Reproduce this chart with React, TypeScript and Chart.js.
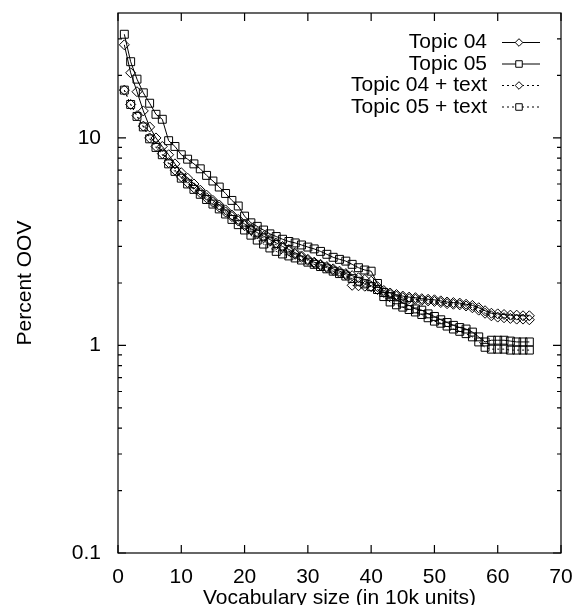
import React, { useEffect, useRef } from 'react';
import { Chart, registerables } from 'chart.js';

Chart.register(...registerables);

const FONT = "'Liberation Sans', Arial, Helvetica, sans-serif";

const xValues = [
  1, 2, 3, 4, 5, 6, 7, 8, 9, 10, 11, 12, 13, 14, 15, 16, 17, 18, 19, 20,
  21, 22, 23, 24, 25, 26, 27, 28, 29, 30, 31, 32, 33, 34, 35, 36, 37, 38, 39, 40,
  41, 42, 43, 44, 45, 46, 47, 48, 49, 50, 51, 52, 53, 54, 55, 56, 57, 58, 59, 60,
  61, 62, 63, 64, 65,
];

const topic04 = [
  28.1, 20.6, 16.7, 13.5, 11.3, 10.0, 9.1, 8.3, 7.5, 6.8,
  6.4, 6.0, 5.6, 5.3, 5.0, 4.75, 4.5, 4.25, 4.05, 3.85,
  3.65, 3.5, 3.36, 3.24, 3.12, 3.0, 2.9, 2.8, 2.7, 2.6,
  2.52, 2.46, 2.4, 2.34, 2.28, 2.22, 2.17, 2.12, 2.08, 2.04,
  1.92, 1.84, 1.79, 1.76, 1.73, 1.71, 1.7, 1.68, 1.67, 1.66,
  1.64, 1.62, 1.61, 1.6, 1.58, 1.56, 1.52, 1.47, 1.43, 1.42,
  1.41, 1.4, 1.4, 1.39, 1.39,
];

const topic05 = [
  31.6, 23.3, 19.2, 16.5, 14.7, 13.0, 12.3, 9.7, 9.1, 8.3,
  7.9, 7.5, 7.1, 6.6, 6.2, 5.8, 5.4, 5.0, 4.7, 4.2,
  3.9, 3.75, 3.6, 3.45, 3.35, 3.25, 3.17, 3.12, 3.05, 2.98,
  2.92, 2.84, 2.75, 2.66, 2.6, 2.55, 2.46, 2.37, 2.31, 2.28,
  1.99, 1.8, 1.72, 1.66, 1.6, 1.56, 1.5, 1.48, 1.42, 1.38,
  1.33, 1.29, 1.25, 1.22, 1.2, 1.16, 1.1, 1.04, 1.06, 1.06,
  1.06, 1.05, 1.04, 1.04, 1.04,
];

const topic04Text = [
  17.0, 14.5, 12.8, 11.4, 10.0, 9.1, 8.4, 7.6, 7.0, 6.5,
  6.1, 5.75, 5.45, 5.15, 4.9, 4.65, 4.4, 4.18, 3.98, 3.78,
  3.6, 3.45, 3.3, 3.18, 3.06, 2.95, 2.85, 2.75, 2.66, 2.57,
  2.49, 2.43, 2.37, 2.3, 2.24, 2.19, 1.95, 1.94, 1.93, 1.92,
  1.86, 1.8, 1.76, 1.73, 1.7, 1.68, 1.67, 1.65, 1.64, 1.63,
  1.61, 1.59, 1.58, 1.57, 1.55, 1.52, 1.48, 1.43, 1.39, 1.37,
  1.36, 1.35, 1.34, 1.34, 1.33,
];

const topic05Text = [
  17.0, 14.5, 12.7, 11.3, 9.9, 9.0, 8.3, 7.5, 6.9, 6.4,
  6.0, 5.65, 5.35, 5.05, 4.8, 4.55, 4.3, 4.05, 3.82, 3.6,
  3.4, 3.22, 3.08, 2.95, 2.84, 2.76, 2.7, 2.64, 2.58, 2.52,
  2.46, 2.4, 2.34, 2.28, 2.22, 2.16, 2.1, 2.04, 1.98, 1.92,
  1.86, 1.72, 1.62, 1.57, 1.53, 1.49, 1.45, 1.41, 1.36, 1.31,
  1.28, 1.24, 1.2, 1.17, 1.14, 1.1, 1.04, 0.98, 0.96, 0.96,
  0.96, 0.95, 0.95, 0.95, 0.95,
];

const seriesLabels = ['Topic 04', 'Topic 05', 'Topic 04 + text', 'Topic 05 + text'];
const xTicks = [0, 10, 20, 30, 40, 50, 60, 70];
const yTicks = [0.1, 1, 10];
const yMinorTicks = [0.2, 0.3, 0.4, 0.5, 0.6, 0.7, 0.8, 0.9, 2, 3, 4, 5, 6, 7, 8, 9, 20, 30];

function markerPath(ctx: CanvasRenderingContext2D, style: string, x: number, y: number, r: number) {
  ctx.beginPath();
  if (style === 'rectRot') {
    ctx.moveTo(x - r, y);
    ctx.lineTo(x, y - r);
    ctx.lineTo(x + r, y);
    ctx.lineTo(x, y + r);
    ctx.closePath();
  } else {
    const s = r * Math.SQRT1_2;
    ctx.rect(x - s, y - s, 2 * s, 2 * s);
  }
}

const framePlugin = {
  id: 'gnuFrame',
  beforeDatasetsDraw(chart: any) {
    const { ctx, chartArea } = chart;
    const { left, right, top, bottom } = chartArea;
    const xs = chart.scales.x;
    const ys = chart.scales.y;
    ctx.save();
    ctx.strokeStyle = '#000';
    ctx.lineWidth = 1.2;
    ctx.setLineDash([]);
    ctx.strokeRect(left, top, right - left, bottom - top);
    ctx.beginPath();
    const major = 8;
    const minor = 4;
    xTicks.forEach((v) => {
      const px = xs.getPixelForValue(v);
      ctx.moveTo(px, bottom);
      ctx.lineTo(px, bottom - major);
      ctx.moveTo(px, top);
      ctx.lineTo(px, top + major);
    });
    yTicks.forEach((v) => {
      const py = ys.getPixelForValue(v);
      ctx.moveTo(left, py);
      ctx.lineTo(left + major, py);
      ctx.moveTo(right, py);
      ctx.lineTo(right - major, py);
    });
    yMinorTicks.forEach((v) => {
      const py = ys.getPixelForValue(v);
      ctx.moveTo(left, py);
      ctx.lineTo(left + minor, py);
      ctx.moveTo(right, py);
      ctx.lineTo(right - minor, py);
    });
    ctx.stroke();
    ctx.restore();
  },
};

const legendPlugin = {
  id: 'gnuLegend',
  afterDraw(chart: any) {
    const { ctx } = chart;
    const styles = ['rectRot', 'rect', 'rectRot', 'rect'];
    const dashes = [[], [], [2, 3], [2, 3]];
    const radii = [3.8, 4.6, 3.8, 4.6];
    ctx.save();
    ctx.font = `21px ${FONT}`;
    ctx.fillStyle = '#000';
    ctx.textAlign = 'right';
    ctx.textBaseline = 'middle';
    seriesLabels.forEach((label, i) => {
      const y = 42.5 + i * 21.5;
      ctx.fillText(label, 487, y);
      ctx.strokeStyle = '#000';
      ctx.lineWidth = 1;
      ctx.setLineDash(dashes[i]);
      ctx.beginPath();
      ctx.moveTo(502, y);
      ctx.lineTo(540, y);
      ctx.stroke();
      ctx.setLineDash([]);
      markerPath(ctx, styles[i], 519, y, radii[i]);
      ctx.fillStyle = '#fff';
      ctx.fill();
      ctx.stroke();
      ctx.fillStyle = '#000';
    });
    ctx.restore();
  },
};

export default function App() {
  const ref = useRef<HTMLCanvasElement>(null);

  useEffect(() => {
    const canvas = ref.current;
    if (!canvas) return;
    const mk = (label: string, values: number[], style: string, dash: number[], radius: number) => ({
      label,
      data: xValues.map((x, i) => ({ x, y: values[i] })),
      borderColor: '#000',
      borderWidth: 1,
      borderDash: dash,
      pointStyle: style,
      pointRadius: radius,
      pointBorderColor: '#000',
      pointBackgroundColor: 'rgba(0,0,0,0)',
      pointBorderWidth: 1,
      tension: 0,
      fill: false,
    });
    const chart = new Chart(canvas, {
      type: 'line',
      data: {
        datasets: [
          mk(seriesLabels[0], topic04, 'rectRot', [], 5),
          mk(seriesLabels[1], topic05, 'rect', [], 5.6),
          mk(seriesLabels[2], topic04Text, 'rectRot', [2, 3], 5),
          mk(seriesLabels[3], topic05Text, 'rect', [2, 3], 5.6),
        ],
      },
      options: {
        responsive: false,
        animation: false,
        devicePixelRatio: 1,
        layout: { padding: { top: 13, right: 12, left: 0, bottom: 0 } },
        plugins: {
          legend: { display: false },
          tooltip: { enabled: false },
        },
        scales: {
          x: {
            type: 'linear',
            min: 0,
            max: 70,
            afterBuildTicks: (s: any) => {
              s.ticks = xTicks.map((v) => ({ value: v }));
            },
            afterFit: (s: any) => {
              s.height = 52;
              s.paddingLeft = 0;
              s.paddingRight = 0;
              s.paddingTop = 0;
              s.paddingBottom = 0;
            },
            grid: { display: false, drawTicks: false },
            border: { display: false },
            ticks: {
              color: '#000',
              font: { family: FONT, size: 21 },
              padding: 12,
              maxRotation: 0,
              autoSkip: false,
              callback: (v: any) => String(v),
            },
            title: {
              display: true,
              text: 'Vocabulary size (in 10k units)',
              color: '#000',
              font: { family: FONT, size: 21 },
              padding: { top: 0, bottom: -5.6 },
            },
          },
          y: {
            type: 'logarithmic',
            min: 0.1,
            max: 40,
            afterBuildTicks: (s: any) => {
              s.ticks = yTicks.map((v) => ({ value: v, major: true }));
            },
            afterFit: (s: any) => {
              s.width = 118;
              s.paddingLeft = 0;
              s.paddingRight = 0;
              s.paddingTop = 0;
              s.paddingBottom = 0;
            },
            grid: { display: false, drawTicks: false },
            border: { display: false },
            ticks: {
              color: '#000',
              font: { family: FONT, size: 21 },
              padding: 17,
              autoSkip: false,
              callback: (v: any) => String(v),
            },
            title: {
              display: true,
              text: 'Percent OOV',
              color: '#000',
              font: { family: FONT, size: 21 },
              padding: { top: 13, bottom: 0 },
            },
          },
        },
      } as any,
      plugins: [framePlugin, legendPlugin],
    });
    return () => chart.destroy();
  }, []);

  return (
    <div style={{ position: 'absolute', left: 0, top: 0, width: 573, height: 605, overflow: 'hidden' }}>
      <canvas ref={ref} width={573} height={605} style={{ display: 'block', width: 573, height: 605 }} />
    </div>
  );
}
